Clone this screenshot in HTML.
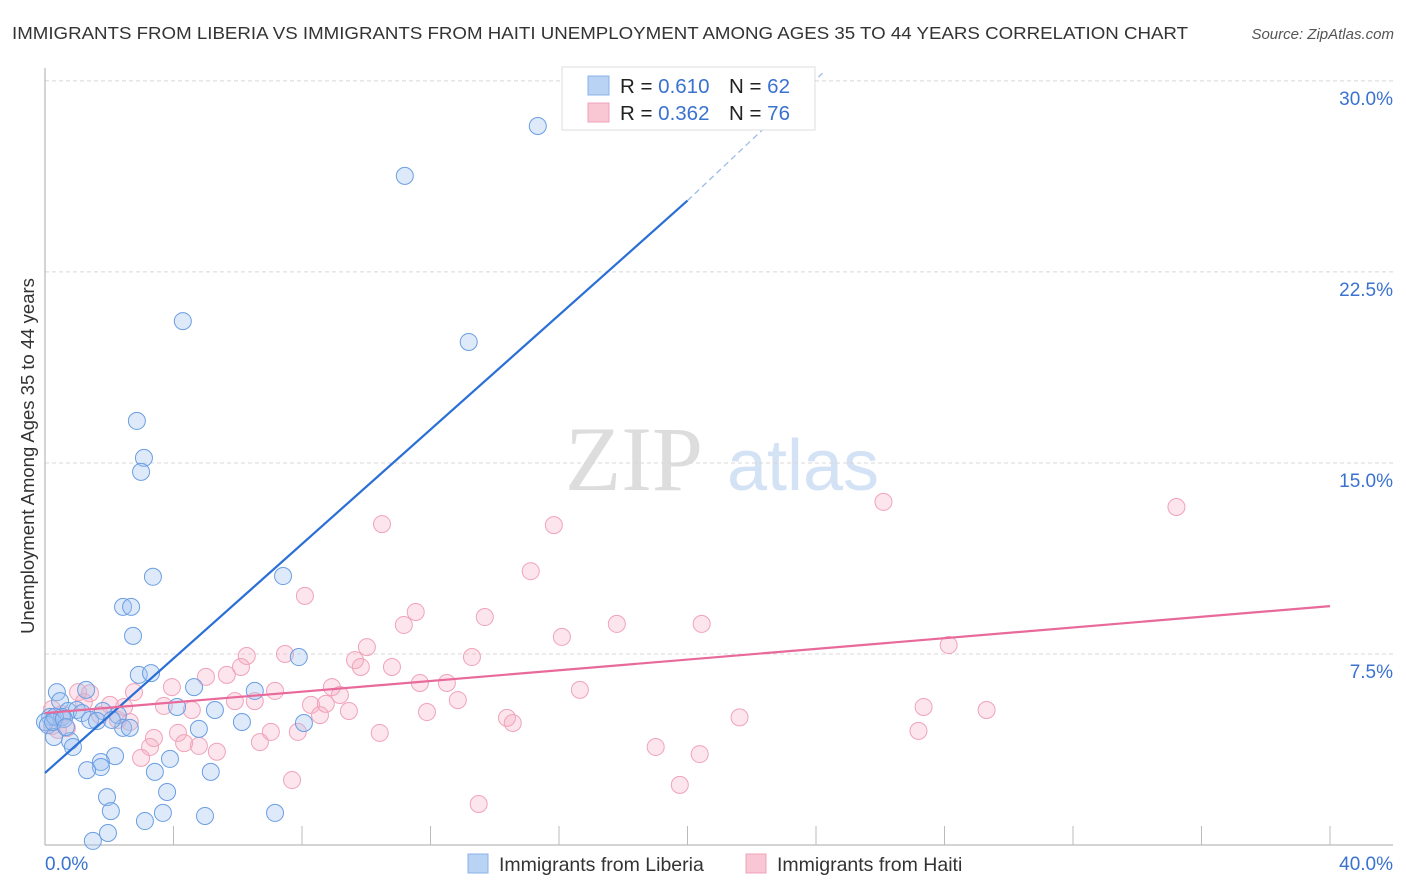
<!DOCTYPE html>
<html><head><meta charset="utf-8"><style>
body{margin:0;background:#fff;font-family:"Liberation Sans",sans-serif;}
svg{display:block}
</style></head><body>
<svg id="chart" width="1406" height="892" xmlns="http://www.w3.org/2000/svg">
<text x="12" y="39" font-size="17.5" fill="#333" textLength="1176" lengthAdjust="spacingAndGlyphs">IMMIGRANTS FROM LIBERIA VS IMMIGRANTS FROM HAITI UNEMPLOYMENT AMONG AGES 35 TO 44 YEARS CORRELATION CHART</text>
<text x="1394" y="39" font-size="15" fill="#555" font-style="italic" text-anchor="end">Source: ZipAtlas.com</text>
<text x="34" y="456" font-size="18.5" fill="#333" text-anchor="middle" transform="rotate(-90 34 456)">Unemployment Among Ages 35 to 44 years</text>
<g><text x="634" y="490" font-size="92" fill="#ddd" font-family="Liberation Serif,serif" text-anchor="middle">ZIP</text><text x="803" y="490" font-size="72" fill="#d4e2f5" text-anchor="middle">atlas</text></g>
<g id="grid"></g><g id="axes"></g><g id="pts"></g><g id="lines"></g>
<g>
<rect x="562" y="67" width="253" height="63" fill="#fff" stroke="#ddd"/>
<rect x="588" y="76" width="21" height="19" fill="#b9d3f5" stroke="#8bb2e8"/>
<rect x="588" y="103" width="21" height="19" fill="#f9c6d4" stroke="#f0a3ba"/>
<text x="620" y="93" font-size="20.5" fill="#222">R = <tspan fill="#3a72d0">0.610</tspan><tspan x="729">N = </tspan><tspan fill="#3a72d0">62</tspan></text>
<text x="620" y="120" font-size="20.5" fill="#222">R = <tspan fill="#3a72d0">0.362</tspan><tspan x="729">N = </tspan><tspan fill="#3a72d0">76</tspan></text>
</g>
<g>
<rect x="468" y="854" width="20" height="19" fill="#b9d3f5" stroke="#8bb2e8"/>
<text x="499" y="871" font-size="19.5" fill="#333">Immigrants from Liberia</text>
<rect x="746" y="854" width="20" height="19" fill="#f9c6d4" stroke="#f0a3ba"/>
<text x="777" y="871" font-size="19.5" fill="#333">Immigrants from Haiti</text>
</g>
</svg>
<script>
const yTicks=[7.5,15,22.5,30];
const yTickLabels=["7.5%","15.0%","22.5%","30.0%"];
const xTickLabels=["0.0%","40.0%"];
const blueX=[15.34,11.2,4.29,13.19,2.86,3.08,2.99,3.36,7.41,2.43,2.68,2.74,2.92,3.3,7.9,0.37,1.28,4.64,6.53,0.47,4.11,5.29,0.72,0.99,1.15,1.8,2.27,0.16,0.53,1.4,1.62,2.43,2.64,6.13,8.06,4.79,0,0.09,0.28,0.78,0.87,2.18,1.74,1.74,1.31,3.42,3.89,5.16,1.93,2.05,3.8,3.11,3.67,4.98,7.16,1.96,1.49,0.31,0.25,0.59,0.65,2.08];
const blueY=[28.23,26.27,20.57,19.75,16.65,15.2,14.65,10.53,10.56,9.35,9.35,8.21,6.68,6.75,7.38,6.0,6.09,6.2,6.05,5.65,5.42,5.3,5.26,5.3,5.18,5.26,5.1,5.03,5.03,4.91,4.87,4.6,4.6,4.83,4.79,4.56,4.83,4.71,4.24,4.08,3.85,3.49,3.26,3.06,2.94,2.87,3.38,2.87,1.88,1.33,2.08,0.94,1.26,1.14,1.26,0.47,0.16,5.03,4.83,4.95,4.63,4.91];
const pinkX=[26.1,35.22,10.49,15.84,15.12,8.09,11.54,13.69,11.17,16.09,17.8,20.44,10.02,9.65,9.83,7.47,6.28,6.1,10.8,13.29,28.13,5.01,5.66,11.67,12.51,8.93,9.18,7.16,2.77,3.95,1.03,1.4,16.65,5.91,6.53,8.28,8.74,12.85,3.7,4.57,9.46,11.89,8.56,2.46,1.21,2.02,0.22,0.53,2.27,2.64,21.62,27.35,29.31,14.38,14.56,27.19,4.14,7.03,7.87,10.42,6.69,4.33,3.39,3.27,4.79,5.35,2.99,19.01,20.38,7.69,19.76,13.5,0.22,0.4,0.68,1.71];
const pinkY=[13.47,13.27,12.6,12.56,10.75,9.78,9.15,8.95,8.64,8.17,8.68,8.68,7.77,7.26,6.99,7.5,7.42,6.99,6.99,7.38,7.85,6.6,6.68,6.36,6.36,6.2,5.89,6.05,6.0,6.2,6.0,5.96,6.09,5.65,5.65,5.5,5.54,5.69,5.46,5.3,5.26,5.22,5.1,5.42,5.61,5.5,5.34,5.14,4.91,4.83,5.01,5.42,5.3,4.99,4.79,4.48,4.4,4.44,4.44,4.4,4.04,4.0,4.2,3.85,3.89,3.66,3.42,3.85,3.57,2.55,2.36,1.61,4.67,4.52,4.59,5.1];
const blueLine=[[0,2.83],[20,25.3]];
const blueDash=[[20,25.3],[24.2,30.3]];
const pinkLine=[[0,5.18],[40,9.38]];
const NS="http://www.w3.org/2000/svg";
const X=v=>45+v*32.125, Y=v=>845-v*25.47;
function mk(tag,attrs,parent){const e=document.createElementNS(NS,tag);for(const k in attrs)e.setAttribute(k,attrs[k]);document.getElementById(parent).appendChild(e);return e;}
yTicks.forEach((t,i)=>{
 const g=mk('line',{x1:45,x2:1393,y1:Y(t),y2:Y(t),stroke:'#d8d8d8','stroke-dasharray':'4,3'},'grid');
 
 
 const l=mk('text',{x:1393,y:Y(t)+24,'font-size':19,fill:'#3a72d0','text-anchor':'end'},'grid');
 l.textContent=yTickLabels[i];
 
 
});
mk('line',{x1:45,x2:45,y1:68,y2:845,stroke:'#aaa'},'axes');
const xa=mk('line',{x1:45,x2:1393,y1:845,y2:845,stroke:'#aaa'},'axes');


for(let i=1;i<=10;i++){const tk=mk('line',{x1:X(i*4),x2:X(i*4),y1:826,y2:845,stroke:'#bbb'},'axes');
 
 }
const x0=mk('text',{x:45,y:870,'font-size':19,fill:'#3a72d0'},'axes');x0.textContent=xTickLabels[0];


const x1=mk('text',{x:1393,y:870,'font-size':19,fill:'#3a72d0','text-anchor':'end'},'axes');x1.textContent=xTickLabels[1];


pinkX.forEach((v,i)=>{const c=mk('circle',{cx:X(v),cy:Y(pinkY[i]),r:8.5,fill:'rgba(246,170,192,0.3)',stroke:'#f0a3ba','stroke-width':1},'pts');
 
 });
blueX.forEach((v,i)=>{const c=mk('circle',{cx:X(v),cy:Y(blueY[i]),r:8.5,fill:'rgba(160,196,240,0.35)',stroke:'#6a9ee2','stroke-width':1},'pts');
 
 });
const bl=mk('line',{x1:X(blueLine[0][0]),y1:Y(blueLine[0][1]),x2:X(blueLine[1][0]),y2:Y(blueLine[1][1]),stroke:'#2a6fd6','stroke-width':2.2},'lines');


const bd=mk('line',{x1:X(blueDash[0][0]),y1:Y(blueDash[0][1]),x2:X(blueDash[1][0]),y2:Y(blueDash[1][1]),stroke:'#9bbbe8','stroke-width':1.3,'stroke-dasharray':'6,4'},'lines');


const pl=mk('line',{x1:X(pinkLine[0][0]),y1:Y(pinkLine[0][1]),x2:X(pinkLine[1][0]),y2:Y(pinkLine[1][1]),stroke:'#e8699a','stroke-width':2.2},'lines');


</script>
</body></html>
